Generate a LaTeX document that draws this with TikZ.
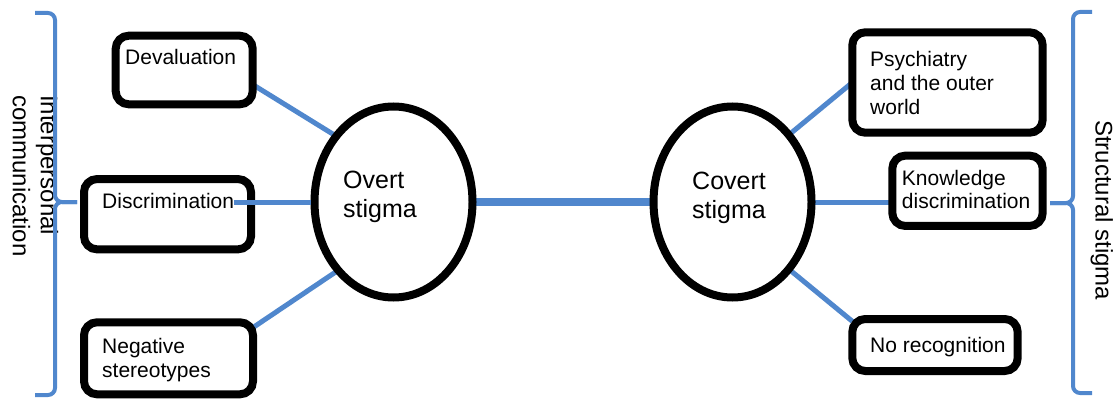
\documentclass[tikz,border=0pt]{standalone}
\usepackage{fontspec}
\setmainfont{Liberation Sans}
\usetikzlibrary{shapes.geometric,shadows}
\pgfdeclarelayer{background}
\pgfsetlayers{background,main}
\definecolor{lineblue}{RGB}{80,135,205}
\begin{document}
\begin{tikzpicture}[x=1pt,y=-1pt,
  box/.style={draw=black, line width=8pt, rounded corners=13pt, fill=white, inner sep=0pt, outer sep=0pt,
    drop shadow={opacity=0.13, shadow xshift=1pt, shadow yshift=-3pt}},
  oval/.style={ellipse, draw=black, line width=8pt, fill=white, inner sep=0pt, outer sep=0pt,
    minimum width=158pt, minimum height=191pt,
    drop shadow={opacity=0.13, shadow xshift=1pt, shadow yshift=-3pt}},
  boxtext/.style={font=\fontsize{21}{23.6}\selectfont, inner sep=0pt, align=left},
  ovaltext/.style={font=\fontsize{25}{29}\selectfont, inner sep=0pt, align=left, anchor=north west},
  link/.style={draw=lineblue, line width=5pt},
  mainlink/.style={draw=lineblue, line width=8pt},
  brace/.style={draw=lineblue, line width=4pt, rounded corners=7pt},
  sidetext/.style={font=\fontsize{24}{28}\selectfont, inner sep=0pt, align=left, rotate=-90}]

\useasboundingbox (0,0) rectangle (1118,401);

% boxes
\node[box, minimum width=137pt, minimum height=68.6pt] (dev) at (184.2,70) {};
\node[box, minimum width=167pt, minimum height=70.3pt] (disc) at (167.5,214.2) {};
\node[box, minimum width=169pt, minimum height=72pt] (neg) at (168.5,358.3) {};
\node[box, minimum width=190.4pt, minimum height=100.4pt] (psy) at (947.5,82.5) {};
\node[box, minimum width=150.4pt, minimum height=70.3pt] (know) at (967.5,190.8) {};
\node[box, minimum width=165.4pt, minimum height=52pt] (norec) at (935,345) {};

% ellipses
\node[oval] (overt) at (393.5,202) {};
\node[oval] (covert) at (732.5,202) {};

% texts
\node[boxtext, anchor=base west] (devt) at (125,65) {Devaluation};
\node[boxtext, anchor=base west] (disct) at (102,208) {Discrimination};
\node[boxtext, anchor=north west] (negt) at (102,338.3) {Negative\\stereotypes};
\node[boxtext, anchor=north west] (psyt) at (870,51.4) {Psychiatry\\and the outer\\world};
\node[boxtext, anchor=north west] (knowt) at (901.7,169.7) {Knowledge\\discrimination};
\node[boxtext, anchor=base west] (norect) at (870,352.7) {No recognition};
\node[ovaltext] (overtt) at (343,171) {Overt\\stigma};
\node[ovaltext] (covertt) at (692,172) {Covert\\stigma};

\node[sidetext, anchor=north west] (inter) at (58.5,95) {Interpersonal\\communication};
\node[sidetext, anchor=base west] (struct) at (1095.5,120) {Structural stigma};

% connectors behind shapes
\begin{pgfonlayer}{background}
  \draw[link] (dev.-12) -- (overt.131);
  \draw[link] (neg.20) -- (overt.231);
  \draw[link] (covert.50) -- (psy.west);
  \draw[link] (covert.-50) -- (norec.164);
  \draw[link] (covert.east) -- (covert.east -| know.west);
  \draw[mainlink] (overt.east) -- (covert.west);
\end{pgfonlayer}
\draw[link, shorten >=4pt] (disct.east |- overt.west) -- (overt.west);

% braces
\draw[brace] (35,13) -- (55,13) -- (55,202) -- (77,202);
\draw[brace] (77,202) -- (55,202) -- (55,395) -- (35,395);
\draw[brace] (1092,12) -- (1073,12) -- (1073,203) -- (1050,203);
\draw[brace] (1050,203) -- (1073,203) -- (1073,393) -- (1092,393);
\end{tikzpicture}
\end{document}
